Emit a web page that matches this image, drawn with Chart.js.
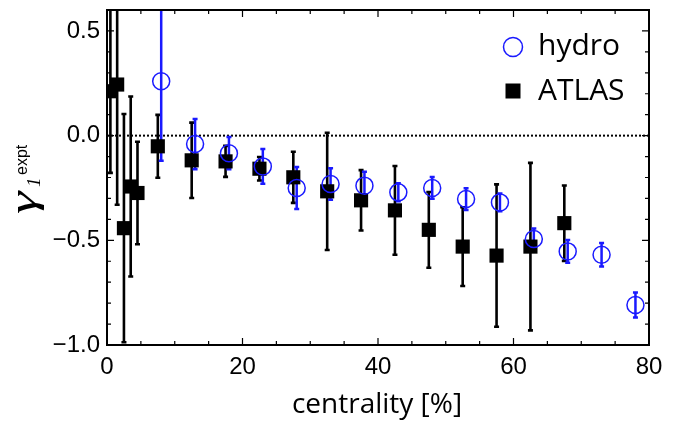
<!DOCTYPE html>
<html>
<head>
<meta charset="utf-8">
<script src="https://cdn.jsdelivr.net/npm/chart.js@4.4.1/dist/chart.umd.min.js"></script>
<style>
html,body{margin:0;padding:0;background:#fff;}
#wrap{width:676px;height:423px;position:relative;}
</style>
</head>
<body>
<div id="wrap"><canvas id="c" width="676" height="423"></canvas></div>
<script>
// ---- data ----
const hydroX = [8, 13, 18, 23, 28, 33, 38, 43, 48, 53, 58, 63, 68, 73, 78];
const hydroY = [0.26, -0.04, -0.084, -0.147, -0.25, -0.231, -0.239, -0.271, -0.25, -0.303, -0.319, -0.494, -0.553, -0.569, -0.809];
const hydroErr = [0.38, 0.12, 0.077, 0.083, 0.1, 0.075, 0.066, 0.043, 0.052, 0.052, 0.042, 0.05, 0.054, 0.056, 0.06];

const atlasX = [0.5, 1.5, 2.5, 3.5, 4.5, 7.5, 12.5, 17.5, 22.5, 27.5, 32.5, 37.5, 42.5, 47.5, 52.5, 57.5, 62.5, 67.5];
const atlasY = [0.212, 0.244, -0.442, -0.243, -0.274, -0.051, -0.118, -0.123, -0.158, -0.199, -0.266, -0.309, -0.357, -0.45, -0.53, -0.573, -0.53, -0.418];
const atlasErr = [0.39, 0.574, 0.545, 0.43, 0.245, 0.15, 0.18, 0.074, 0.056, 0.122, 0.28, 0.144, 0.212, 0.181, 0.188, 0.34, 0.40, 0.18];

const xTickValues = [0, 20, 40, 60, 80];
const yTickValues = [-1.0, -0.5, 0.0, 0.5];
const xTickLabels = ['0', '20', '40', '60', '80'];
const yTickLabels = ['\u22121.0', '\u22120.5', '0.0', '0.5'];
const seriesNames = ['hydro', 'ATLAS'];
const xTitle = 'centrality [%]';

const BLUE = '#1a1aff';

const hydroPts = hydroX.map((x, i) => ({x: x, y: hydroY[i], e: hydroErr[i]}));
const atlasPts = atlasX.map((x, i) => ({x: x, y: atlasY[i], e: atlasErr[i]}));

const decor = {
  id: 'decor',
  beforeDatasetsDraw(chart) {
    const ctx = chart.ctx, a = chart.chartArea;
    const xs = chart.scales.x, ys = chart.scales.y;
    ctx.save();
    ctx.beginPath();
    ctx.rect(a.left, a.top, a.right - a.left, a.bottom - a.top);
    ctx.clip();
    // zero dotted line
    ctx.strokeStyle = '#000';
    ctx.lineWidth = 2;
    ctx.setLineDash([2, 2]);
    ctx.beginPath();
    const y0 = ys.getPixelForValue(0);
    ctx.moveTo(a.left, y0); ctx.lineTo(a.right, y0);
    ctx.stroke();
    ctx.setLineDash([]);
    // error bars
    const drawErr = (ds, color, lw) => {
      ctx.strokeStyle = color;
      ctx.lineWidth = lw;
      ds.forEach(p => {
        const px = xs.getPixelForValue(p.x);
        const pt = ys.getPixelForValue(p.y + p.e);
        const pb = ys.getPixelForValue(p.y - p.e);
        ctx.beginPath();
        ctx.moveTo(px, pt); ctx.lineTo(px, pb);
        ctx.moveTo(px - 2.5, pt); ctx.lineTo(px + 2.5, pt);
        ctx.moveTo(px - 2.5, pb); ctx.lineTo(px + 2.5, pb);
        ctx.stroke();
      });
    };
    drawErr(atlasPts, '#000', 2.6);
    drawErr(hydroPts, BLUE, 2.5);
    ctx.restore();
  },
  afterDraw(chart) {
    const ctx = chart.ctx, a = chart.chartArea;
    const xs = chart.scales.x, ys = chart.scales.y;
    ctx.save();
    // frame
    ctx.strokeStyle = '#000';
    ctx.lineWidth = 2;
    ctx.strokeRect(a.left, a.top, a.right - a.left, a.bottom - a.top);
    ctx.lineWidth = 1.2;
    ctx.beginPath();
    for (let v = 0; v <= 80; v += 5) {
      const px = xs.getPixelForValue(v);
      const L = (v % 20 === 0) ? 7 : 4;
      ctx.moveTo(px, a.bottom); ctx.lineTo(px, a.bottom - L);
      ctx.moveTo(px, a.top); ctx.lineTo(px, a.top + L);
    }
    for (let k = -10; k <= 6; k++) {
      const v = k / 10;
      const py = ys.getPixelForValue(v);
      const L = (k % 5 === 0) ? 7 : 4;
      ctx.moveTo(a.left, py); ctx.lineTo(a.left + L, py);
      ctx.moveTo(a.right, py); ctx.lineTo(a.right - L, py);
    }
    ctx.stroke();

    // legend
    ctx.font = '30px "Open Sans", sans-serif';
    ctx.textBaseline = 'middle';
    ctx.textAlign = 'left';
    ctx.fillStyle = '#000';
    ctx.strokeStyle = BLUE;
    ctx.lineWidth = 1.5;
    ctx.beginPath();
    ctx.arc(513, 47, 9.5, 0, Math.PI * 2);
    ctx.stroke();
    ctx.fillText(seriesNames[0], 538, 46);
    ctx.fillRect(505.5, 83.5, 15, 15);
    ctx.fillText(seriesNames[1], 538, 91);

    // x title
    ctx.font = '28px "Open Sans", sans-serif';
    ctx.textAlign = 'center';
    ctx.textBaseline = 'alphabetic';
    ctx.fillText(xTitle, 377, 413);

    // y title: gamma_1^expt rotated
    ctx.translate(36, 214);
    ctx.rotate(-Math.PI / 2);
    ctx.textAlign = 'left';
    ctx.font = 'italic 38px "Liberation Serif", serif';
    const gw = ctx.measureText('\u03B3').width;
    const sx = Math.max(0.8, Math.min(1.5, 26 / gw));
    ctx.save();
    ctx.scale(sx, 1);
    ctx.fillText('\u03B3', 0, 0);
    ctx.restore();
    ctx.font = 'italic 19px "Liberation Serif", serif';
    ctx.fillText('1', 27, 4);
    ctx.font = '16px "Liberation Sans", sans-serif';
    ctx.fillText('expt', 39, -9);
    ctx.restore();
  }
};

new Chart(document.getElementById('c'), {
  type: 'scatter',
  data: {
    datasets: [
      {
        label: seriesNames[0],
        data: hydroPts,
        pointStyle: 'circle',
        pointRadius: 8.5,
        pointHoverRadius: 8.5,
        borderColor: BLUE,
        backgroundColor: 'rgba(0,0,0,0)',
        pointBorderWidth: 1.5,
        clip: 0
      },
      {
        label: seriesNames[1],
        data: atlasPts,
        pointStyle: 'rect',
        pointRadius: 10,
        pointHoverRadius: 10,
        borderColor: '#000',
        backgroundColor: '#000',
        pointBorderWidth: 0,
        clip: 0
      }
    ]
  },
  options: {
    responsive: false,
    animation: false,
    events: [],
    layout: {padding: {top: 10, right: 27, left: 0, bottom: 0}},
    plugins: {legend: {display: false}, tooltip: {enabled: false}},
    scales: {
      x: {
        type: 'linear', min: 0, max: 80,
        grid: {display: false, drawTicks: false},
        border: {display: false},
        afterBuildTicks(s) { s.ticks = xTickValues.map(v => ({value: v})); },
        afterFit(s) { s.height = 78; s.paddingLeft = 0; s.paddingRight = 0; },
        ticks: {
          padding: 8,
          color: '#000',
          font: {family: '"Liberation Sans", Arial, sans-serif', size: 24},
          callback(v) { const i = xTickValues.indexOf(v); return i >= 0 ? xTickLabels[i] : ''; }
        }
      },
      y: {
        type: 'linear', min: -1.0, max: 0.6,
        grid: {display: false, drawTicks: false},
        border: {display: false},
        afterBuildTicks(s) { s.ticks = yTickValues.map(v => ({value: v})); },
        afterFit(s) { s.width = 107; s.paddingTop = 0; s.paddingBottom = 0; },
        ticks: {
          padding: 7,
          color: '#000',
          font: {family: '"Liberation Sans", Arial, sans-serif', size: 24},
          callback(v) {
            const i = yTickValues.findIndex(t => Math.abs(t - v) < 1e-9);
            return i >= 0 ? yTickLabels[i] : '';
          }
        }
      }
    }
  },
  plugins: [decor]
});
</script>
</body>
</html>
